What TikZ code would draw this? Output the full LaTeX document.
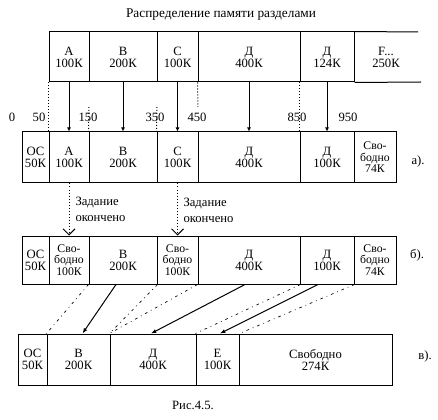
\documentclass[tikz,border=0pt]{standalone}
\usepackage{fontspec}
\setmainfont{Liberation Serif}
\usetikzlibrary{arrows.meta, calc}

\begin{document}
\begin{tikzpicture}[x=0.75pt,y=0.75pt,yscale=-1,xscale=1,
    line width=0.75pt,
    txt/.style={inner sep=0pt, align=center, font=\fontsize{9.5}{9}\selectfont},
    cell/.style={txt, draw, minimum height=#1*0.75pt},
    wd/.style={minimum width=#1*0.75pt},
    three/.style={font=\fontsize{8.8}{8.6}\selectfont},
    tipa/.style={-{Latex[length=3pt,width=3pt]}},
    tipb/.style={-{Latex[length=4pt,width=3pt]}},
    dots/.style={dash pattern={on 0.75pt off 1.5pt}},
    dashdot/.style={line width=0.5pt, dash pattern={on 2pt off 3pt on 0.6pt off 3pt}}]
\useasboundingbox (0,0) rectangle (438,420);

% Text Node
\node[txt, font=\fontsize{10}{12}\selectfont] (title) at (221,15) {Распределение памяти разделами};

%Queue of jobs
\node[cell=50, wd=40] (qA) at (69,57) {А\\100К};
\node[cell=50, wd=68] (qB) at (123,57) {В\\200К};
\node[cell=50, wd=41] (qC) at (177.5,57) {С\\100К};
\node[cell=50, wd=102] (qD) at (249,57) {Д\\400К};
\node[cell=50, wd=54] (qD2) at (327,57) {Д\\124К};
\node[txt, minimum height=50*0.75pt, wd=64] (qF) at (386,57) {F...\\250К};
\coordinate (qTopEnd) at (418,32);
\coordinate (qBotEnd) at (421,82);
\draw (qD2.north east) -- (qTopEnd);
\draw (qD2.south east) -- (qBotEnd);

% Addresses
\foreach \x/\t in {12/0, 39/50, 88/150, 155/350, 197/450, 297/850, 348/950}
  \node[txt] (m\t) at (\x,117) {\t};

%Row a
\node[cell=51, wd=27] (aOS) at (35.5,157.5) {ОС\\50К};
\node[cell=51, wd=40] (aA) at (69,157.5) {А\\100К};
\node[cell=51, wd=68] (aB) at (123,157.5) {В\\200К};
\node[cell=51, wd=41] (aC) at (177.5,157.5) {С\\100К};
\node[cell=51, wd=102] (aD) at (249,157.5) {Д\\400К};
\node[cell=51, wd=54] (aD2) at (327,157.5) {Д\\100К};
\node[cell=51, wd=42, three] (aFree) at (375,157.5) {Сво-\\бодно\\74К};
\node[txt] (lblA) at (418,161) {а).};

% Loading of jobs
\foreach \n in {A,B,C,D,D2}
  \draw[tipa] (q\n) -- (a\n);
\coordinate (dB) at (89,107);
\coordinate (dC) at (157,107);
\coordinate (dD) at (198,107);
\draw[dots] (qA.south west) -- (aA.north west);
\draw[dots] (dB) -- (aB.north west);
\draw[dots] (dC) -- (aC.north west);
\draw[dots] (qD.south west) -- (dD);
\draw[dots] (qD2.south west) -- (aD2.north west);

%Row b
\node[cell=48, wd=27] (bOS) at (35.5,260) {ОС\\50К};
\node[cell=48, wd=40, three] (bA) at (69,260) {Сво-\\бодно\\100К};
\node[cell=48, wd=68] (bB) at (123,260) {В\\200К};
\node[cell=48, wd=41, three] (bC) at (177.5,260) {Сво-\\бодно\\100К};
\node[cell=48, wd=102] (bD) at (249,260) {Д\\400К};
\node[cell=48, wd=54] (bD2) at (327,260) {Д\\100К};
\node[cell=48, wd=42, three] (bFree) at (375,260) {Сво-\\бодно\\74К};
\node[txt] (lblB) at (417,255) {б).};

% Jobs finished
\draw[dots, -{Straight Barb[length=4.5pt,width=9pt]}] (aA) -- (bA);
\draw[dots, -{Straight Barb[length=4.5pt,width=9pt]}] (aC) -- (bC);
\node[txt, anchor=west, align=left, font=\fontsize{9.5}{12}\selectfont] (endA) at (75,209) {Задание\\окончено};
\node[txt, anchor=west, align=left, font=\fontsize{9.5}{12}\selectfont] (endC) at (183,210) {Задание\\окончено};

%Row c
\node[cell=51, wd=29] (cOS) at (32.5,359.5) {ОС\\50К};
\node[cell=51, wd=63] (cB) at (78.5,359.5) {В\\200К};
\node[cell=51, wd=86] (cD) at (153,359.5) {Д\\400К};
\node[cell=51, wd=43] (cE) at (217.5,359.5) {Е\\100К};
\node[cell=51, wd=153] (cFree) at (315.5,359.5) {Свободно\\274К};
\node[txt] (lblC) at (425,356) {в).};

% Compaction
\draw[tipb] ($(bB.south)+(-7,0)$) -- ($(cB.north)+(4,0)$);
\draw[tipb] ($(bD.south)+(-4,0)$) -- ($(cD.north)+(-2,0)$);
\draw[tipb] ($(bD2.south)+(-9,0)$) -- ($(cE.north)+(2.5,0)$);
\draw[dashdot] (bB.south west) -- (cB.north west);
\draw[dashdot] (bB.south east) -- (cD.north west);
\draw[dashdot] (bD.south west) -- (cD.north west);
\draw[dashdot] (bD.south east) -- (cE.north west);
\draw[dashdot] (bD2.south east) -- (cE.north east);

% Text Node
\node[txt] (caption) at (193,405) {Рис.4.5.};

\end{tikzpicture}
\end{document}
